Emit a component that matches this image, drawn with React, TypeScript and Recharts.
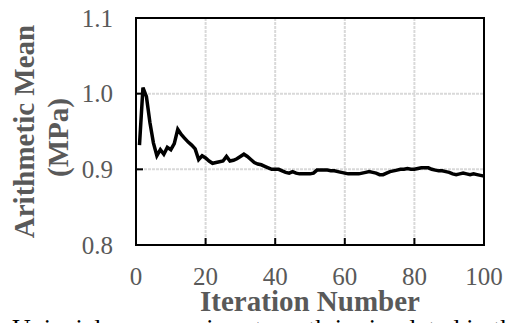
import { LineChart, Line, XAxis, YAxis, CartesianGrid, ReferenceArea, Label } from "recharts";

const SERIF = "'Liberation Serif', 'Times New Roman', serif";
const GREY = "#595959";

// running arithmetic mean per iteration (MPa)
const meanValues = [
  0.932, 1.008, 0.996, 0.962, 0.935, 0.918, 0.926, 0.92, 0.929, 0.926,
  0.934, 0.953, 0.946, 0.941, 0.936, 0.932, 0.927, 0.913, 0.918, 0.915,
  0.911, 0.908, 0.909, 0.91, 0.911, 0.917, 0.911, 0.912, 0.914, 0.917,
  0.92, 0.917, 0.913, 0.909, 0.907, 0.906, 0.904, 0.902, 0.9, 0.9,
  0.9, 0.898, 0.896, 0.895, 0.897, 0.895, 0.894, 0.894, 0.894, 0.894,
  0.895, 0.899, 0.899, 0.899, 0.899, 0.898, 0.898, 0.897, 0.896, 0.895,
  0.894, 0.894, 0.894, 0.894, 0.895, 0.896, 0.897, 0.896, 0.895, 0.893,
  0.893, 0.895, 0.897, 0.898, 0.899, 0.9, 0.9, 0.901, 0.9, 0.9,
  0.901, 0.902, 0.902, 0.902, 0.9, 0.899, 0.898, 0.898, 0.897, 0.896,
  0.894, 0.893, 0.894, 0.895, 0.894, 0.893, 0.894, 0.893, 0.892, 0.891,
];

const xTicks = [0, 20, 40, 60, 80, 100];
const yTicks = [0.8, 0.9, 1.0, 1.1];

const data = meanValues.map((v, i) => ({ iter: i + 1, mean: v }));

function XTick(props: any) {
  const { x, y, payload } = props;
  const v = payload.value;
  const inner = v > 0 && v < 100;
  return (
    <g>
      {inner && <line x1={x} x2={x} y1={y} y2={y - 7} stroke="#000" strokeWidth={2} />}
      <text x={x} y={y + 40} textAnchor="middle" fill={GREY} fontSize={25} style={{ fontFamily: SERIF }}>
        {v}
      </text>
    </g>
  );
}

function YTick(props: any) {
  const { x, y, payload } = props;
  const v = payload.value;
  const inner = v > 0.85 && v < 1.05;
  return (
    <g>
      {inner && <line x1={x} x2={x + 7} y1={y} y2={y} stroke="#000" strokeWidth={2} />}
      <text x={x - 23} y={y} dy="0.34em" textAnchor="end" fill={GREY} fontSize={25} style={{ fontFamily: SERIF }}>
        {v.toFixed(1)}
      </text>
    </g>
  );
}

function YTitle(props: any) {
  const vb = props.viewBox;
  const cy = vb.y + vb.height / 2;
  return (
    <g fill={GREY} fontWeight="bold" fontSize={29} textAnchor="middle" style={{ fontFamily: SERIF }}>
      <text x={vb.x + 34} y={cy} transform={`rotate(-90, ${vb.x + 34}, ${cy})`}>
        Arithmetic Mean
      </text>
      <text x={vb.x + 68} y={cy + 6} transform={`rotate(-90, ${vb.x + 68}, ${cy + 6})`}>
        (MPa)
      </text>
    </g>
  );
}

function XTitle(props: any) {
  const vb = props.viewBox;
  return (
    <text
      x={vb.x + vb.width / 2}
      y={vb.y + 66}
      textAnchor="middle"
      fill={GREY}
      fontWeight="bold"
      fontSize={29}
      style={{ fontFamily: SERIF }}
    >
      Iteration Number
    </text>
  );
}

export default function App() {
  return (
    <div
      style={{
        position: "absolute",
        left: 0,
        top: 0,
        width: 508,
        height: 323,
        background: "#fff",
        overflow: "hidden",
      }}
    >
      <LineChart width={508} height={323} data={data} margin={{ top: 18, right: 24, left: 0, bottom: 0 }}>
        <CartesianGrid stroke="#d9d9d9" strokeWidth={2} strokeDasharray="3 1" />
        <XAxis
          dataKey="iter"
          type="number"
          domain={[0, 100]}
          ticks={xTicks}
          height={78}
          axisLine={false}
          tickLine={false}
          tickSize={0}
          tickMargin={0}
          tick={<XTick />}
          interval={0}
        >
          <Label content={<XTitle />} />
        </XAxis>
        <YAxis
          type="number"
          domain={[0.8, 1.1]}
          ticks={yTicks}
          width={136}
          axisLine={false}
          tickLine={false}
          tickSize={0}
          tickMargin={0}
          tick={<YTick />}
          interval={0}
          allowDataOverflow
        >
          <Label content={<YTitle />} />
        </YAxis>
        <ReferenceArea x1={0} x2={100} y1={0.8} y2={1.1} fill="none" stroke="#000" strokeWidth={2} />
        <Line
          type="linear"
          dataKey="mean"
          stroke="#000"
          strokeWidth={3.5}
          dot={false}
          isAnimationActive={false}
        />
      </LineChart>
      <div
        style={{
          position: "absolute",
          left: 12,
          top: 316,
          fontFamily: SERIF,
          fontSize: 26,
          lineHeight: "26px",
          color: "#000",
          whiteSpace: "nowrap",
        }}
      >
        Uniaxial compressive strength is simulated in the
      </div>
    </div>
  );
}
